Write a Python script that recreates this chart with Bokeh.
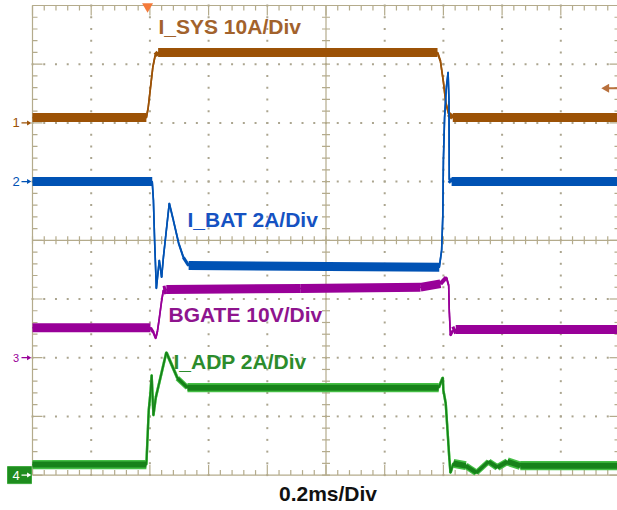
import numpy as np
from bokeh.plotting import figure
from bokeh.models import Range1d, ColumnDataSource
from bokeh.core.properties import value
from bokeh.embed import file_html
from bokeh.resources import INLINE

# ---------------- data: scope divisions (x 0..10 div at 0.2 ms/div, y 0..8 div from bottom) ----------------
sys_x = [0.0, 1.94, 1.97, 2.01, 2.05, 2.09, 2.14, 6.90, 6.95, 7.00, 7.04, 7.09, 7.16, 10.0]
sys_y = [6.09, 6.09, 6.25, 6.60, 6.95, 7.15, 7.20, 7.20, 7.05, 6.70, 6.35, 6.15, 6.09, 6.09]

bat_x = [0.0, 2.04, 2.06, 2.08, 2.11, 2.16, 2.20, 2.23, 2.33, 2.40, 2.49, 2.57, 2.66,
         6.93, 6.97, 6.99, 7.00, 7.02, 7.05, 7.08, 7.095, 7.10, 7.14, 10.0]
bat_y = [5.00, 5.00, 4.68, 4.00, 3.18, 3.66, 3.37, 3.71, 4.63, 4.34, 3.95, 3.71, 3.57,
         3.54, 3.83, 4.42, 5.36, 6.09, 6.60, 6.86, 6.38, 5.03, 5.00, 5.00]

bg_x = [0.0, 2.01, 2.06, 2.10, 2.13, 2.16, 2.20, 2.23, 2.28, 4.57, 6.61, 6.95, 7.05, 7.09,
        7.10, 7.12, 7.16, 7.21, 10.0]
bg_y = [2.51, 2.51, 2.43, 2.33, 2.46, 2.67, 2.97, 3.15, 3.16, 3.18, 3.20, 3.26, 3.37, 3.23,
        2.80, 2.38, 2.46, 2.48, 2.48]

adp_x = [0.0, 1.94, 1.98, 2.01, 2.03, 2.06, 2.10, 2.28, 2.47, 2.64, 6.92, 6.99, 7.00, 7.04,
         7.07, 7.10, 7.12, 7.17, 7.38, 7.56, 7.77, 7.92, 8.09, 8.31, 10.0]
adp_y = [0.18, 0.18, 1.10, 1.41, 1.70, 1.02, 1.32, 2.09, 1.65, 1.49, 1.49, 1.66, 1.44, 1.22,
         0.76, 0.30, 0.04, 0.20, 0.16, 0.04, 0.23, 0.13, 0.23, 0.16, 0.16]

trace_labels = ["I_SYS 10A/Div", "I_BAT 2A/Div", "BGATE 10V/Div", "I_ADP 2A/Div"]
time_label = "0.2ms/Div"
channel_names = ["1", "2", "3", "4"]
channel_levels = [6.0, 5.0, 2.0, 0.0]
trigger_time = 1.96
trigger_level = 6.59

# ---------------- layout / style ----------------
DX, DY = 58.7, 58.7           # px per division
W, H = 617, 510
XP0, YPB = 32.0, 474.6         # canvas position of graticule left / bottom edge


def px2x(px):
    return (px - XP0) / DX


def py2y(py):
    return (YPB - py) / DY


SYS_C, SYS_T = "#9C5206", "#A2622C"
BAT_C, BAT_T = "#0052B4", "#1552C2"
BG_C, BG_T = "#980098", "#8E148E"
ADP_C, ADP_E, ADP_T = "#17821A", "#45BE45", "#2C8C2C"
BORDER = "#B4AB8C"
DOT = "#ABA58F"
FONT = value("Liberation Sans")

p = figure(width=W, height=H, output_backend="svg", toolbar_location=None,
           x_range=Range1d(px2x(0), px2x(W)), y_range=Range1d(py2y(H), py2y(0)),
           x_axis_type=None, y_axis_type=None, min_border=0, outline_line_color=None,
           background_fill_color="white", border_fill_color="white")
p.min_border_left = p.min_border_right = p.min_border_top = p.min_border_bottom = 0

# graticule dots
minor_x = np.round(np.arange(0, 10.001, 0.2), 3)
minor_y = np.round(np.arange(0, 8.001, 0.2), 3)
dx_, dy_ = [], []
for xi in [1, 2, 3, 4, 6, 7, 8, 9]:
    dx_ += [xi] * len(minor_y)
    dy_ += list(minor_y)
for yi in [1, 2, 3, 5, 6, 7]:
    dx_ += list(minor_x)
    dy_ += [yi] * len(minor_x)
p.scatter(dx_, dy_, marker="square", size=2.0, fill_color=DOT, line_color=None)

# border + center lines
p.multi_line([[0, 0], [0, 10.2], [0, 10.2], [5, 5], [0, 10.2]],
             [[0, 8], [8, 8], [0, 0], [0, 8], [4, 4]], line_color=BORDER, line_width=1.2)

# ticks
sx0, sx1, sy0, sy1 = [], [], [], []
for yv in minor_y:
    major = abs(yv - round(yv)) < 1e-6
    L = (10 if major else 5) / DX
    sx0 += [0, 10]; sx1 += [L, 10 - L]; sy0 += [yv, yv]; sy1 += [yv, yv]
    sx0.append(5 - 4 / DX); sx1.append(5 + 4 / DX); sy0.append(yv); sy1.append(yv)
for xv in minor_x:
    major = abs(xv - round(xv)) < 1e-6
    L = (10 if major else 5) / DY
    sx0 += [xv, xv]; sx1 += [xv, xv]; sy0 += [0, 8]; sy1 += [L, 8 - L]
    sx0.append(xv); sx1.append(xv); sy0.append(4 - 4 / DY); sy1.append(4 + 4 / DY)
p.segment(sx0, sy0, sx1, sy1, line_color=BORDER, line_width=1.2)


def draw_trace(xs, ys, color, thick=7.0, thin=1.6, extra=0.0):
    mx, my, ws = [], [], []
    for i in range(len(xs) - 1):
        dxp = abs(xs[i + 1] - xs[i]) * DX
        dyp = abs(ys[i + 1] - ys[i]) * DY
        slope = dyp / max(dxp, 1e-6)
        w = thin + (thick - thin) / (1.0 + (slope / 0.8) ** 2)
        mx.append([xs[i], xs[i + 1]])
        my.append([ys[i], ys[i + 1]])
        ws.append(w + extra)
    src = ColumnDataSource(dict(xs=mx, ys=my, w=ws))
    p.multi_line("xs", "ys", line_width="w", line_color=color, line_cap="butt",
                 line_join="round", source=src)
    p.line(xs, ys, line_color=color, line_width=thin + extra, line_join="round")


draw_trace(sys_x, sys_y, SYS_C, thick=9.0)
draw_trace(adp_x, adp_y, ADP_E, thick=8.5, extra=0.8)
draw_trace(adp_x, adp_y, ADP_C, thick=6.0, thin=1.2)
draw_trace(bg_x, bg_y, BG_C, thick=9.0)
draw_trace(bat_x, bat_y, BAT_C, thick=9.0)

# trace labels
p.text(x=[px2x(158), px2x(187), px2x(168), px2x(173)],
       y=[py2y(26), py2y(219), py2y(314), py2y(361)],
       text=trace_labels, text_color=[SYS_T, BAT_T, BG_T, ADP_T],
       text_font=FONT, text_font_style="bold", text_font_size="21px",
       text_align="left", text_baseline="alphabetic")
p.text(x=[px2x(327.5)], y=[py2y(493)], text=[time_label], text_color="#111111",
       text_font=FONT, text_font_style="bold", text_font_size="21px",
       text_align="center", text_baseline="alphabetic")

# channel ground markers
p.quad(left=[px2x(7)], right=[px2x(31)], bottom=[channel_levels[3] - 8.5 / DY],
       top=[channel_levels[3] + 8.5 / DY], fill_color="#1E8C1E", line_color="#3CA83C")
ch_cols = [SYS_C, BAT_C, BG_C, "white"]
ch_size = ["13px", "13px", "11px", "13px"]
for nm, lv, c, fs in zip(channel_names, channel_levels, ch_cols, ch_size):
    p.text(x=[px2x(15.5)], y=[lv], text=[nm], text_color=c, text_font=FONT,
           text_font_size=fs, text_align="center", text_baseline="middle")
    p.segment([px2x(21)], [lv], [px2x(27)], [lv], line_color=c, line_width=1.2)
    p.scatter([px2x(28)], [lv], marker="triangle", angle=-np.pi / 2, size=5,
              fill_color=c, line_color=None)

# trigger markers
p.scatter([trigger_time], [py2y(6)], marker="inverted_triangle", size=11,
          fill_color="#F47A3A", line_color=None)
p.segment([px2x(607)], [trigger_level], [px2x(620)], [trigger_level],
          line_color="#B8703C", line_width=2)
p.scatter([px2x(606)], [trigger_level], marker="triangle", angle=np.pi / 2, size=9,
          fill_color="#B8703C", line_color=None)

open("out.html", "w").write(file_html(p, INLINE))
